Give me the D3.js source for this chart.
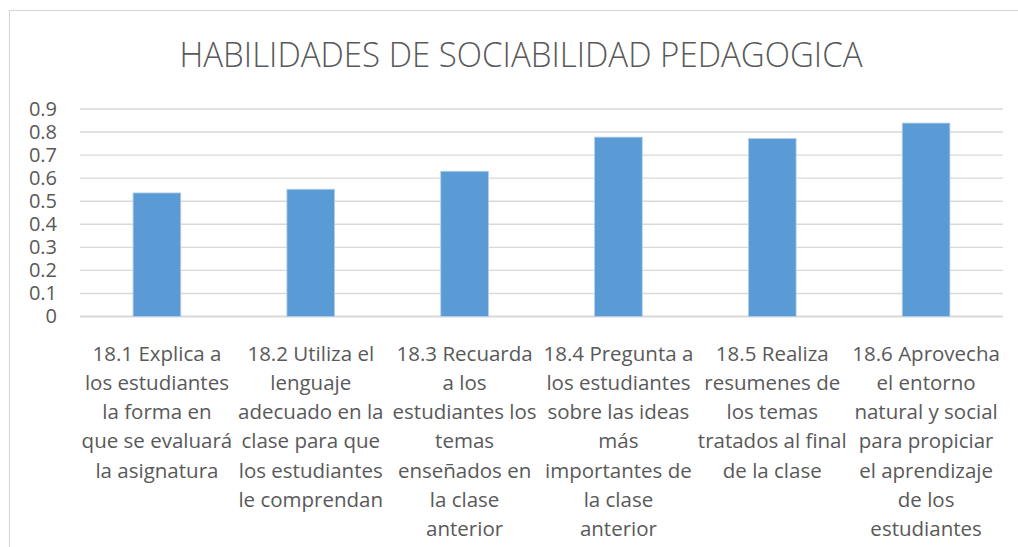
<!DOCTYPE html>
<html>
<head>
<meta charset="utf-8">
<script src="https://cdnjs.cloudflare.com/ajax/libs/d3/7.8.5/d3.min.js"></script>
<style>
  body { margin: 0; background: #fff; }
  text { font-family: "Open Sans", "Liberation Sans", sans-serif; fill: #595959; }
</style>
</head>
<body>
<div id="chart"></div>
<script>
var title = "HABILIDADES DE SOCIABILIDAD PEDAGOGICA";

var categories = ["18.1", "18.2", "18.3", "18.4", "18.5", "18.6"];

// wrapped axis labels, as in the picture
var categoryLabels = [
    ["18.1 Explica a", "los estudiantes", "la forma en", "que se evaluará", "la asignatura"],
    ["18.2 Utiliza el", "lenguaje", "adecuado en la", "clase para que", "los estudiantes", "le comprendan"],
    ["18.3 Recuarda", "a los", "estudiantes los", "temas", "enseñados en", "la clase", "anterior"],
    ["18.4 Pregunta a", "los estudiantes", "sobre las ideas", "más", "importantes de", "la clase", "anterior"],
    ["18.5 Realiza", "resumenes de", "los temas", "tratados al final", "de la clase"],
    ["18.6 Aprovecha", "el entorno", "natural y social", "para propiciar", "el aprendizaje", "de los", "estudiantes"]
];

var values = [0.536, 0.552, 0.630, 0.778, 0.772, 0.839];

var yTicks = [0, 0.1, 0.2, 0.3, 0.4, 0.5, 0.6, 0.7, 0.8, 0.9];

var W = 1018, H = 547;
var margin = { top: 109, right: 15, bottom: 230.5, left: 80 },
    width = W - margin.left - margin.right,
    height = H - margin.top - margin.bottom;

var svg = d3.select("#chart").append("svg")
    .attr("width", W)
    .attr("height", H);

// outer chart frame (runs off the right and bottom of the picture)
svg.append("rect")
    .attr("x", 9.5)
    .attr("y", 10.5)
    .attr("width", 1030)
    .attr("height", 560)
    .attr("fill", "none")
    .attr("stroke", "#d9d9d9")
    .attr("stroke-width", 1.2);

svg.append("text")
    .attr("x", 521)
    .attr("y", 67)
    .attr("text-anchor", "middle")
    .style("font-size", "34px")
    .style("font-weight", 300)
    .attr("textLength", 683)
    .attr("lengthAdjust", "spacingAndGlyphs")
    .text(title);

var g = svg.append("g")
    .attr("transform", "translate(" + margin.left + "," + margin.top + ")");

var xScale = d3.scaleBand()
    .domain(categories)
    .range([0, width])
    .paddingInner(0.69)
    .paddingOuter(0.345);

var band = d3.scaleBand()
    .domain(categories)
    .range([0, width]);

var yScale = d3.scaleLinear()
    .domain([0, 0.9])
    .range([height, 0]);

// gridlines
g.append("g")
    .selectAll("line")
    .data(yTicks)
    .enter().append("line")
    .attr("x1", 0)
    .attr("x2", width)
    .attr("y1", function (d) { return yScale(d); })
    .attr("y2", function (d) { return yScale(d); })
    .attr("stroke", "#d9d9d9")
    .attr("stroke-width", function (d) { return d === 0 ? 1.8 : 1.4; });

// y axis labels
var yAxis = g.append("g")
    .call(d3.axisLeft(yScale).tickValues(yTicks).tickSize(0).tickPadding(23).tickFormat(d3.format("")));
yAxis.select(".domain").remove();
yAxis.selectAll("text")
    .style("font-size", "20px")
    .attr("fill", "#595959");

// bars
g.selectAll(".bar")
    .data(values)
    .enter().append("rect")
    .attr("class", "bar")
    .attr("x", function (d, i) { return xScale(categories[i]); })
    .attr("width", xScale.bandwidth())
    .attr("y", function (d) { return yScale(d); })
    .attr("height", function (d) { return yScale(0) - yScale(d); })
    .attr("fill", "#5b9bd5")
    .attr("stroke", "#b4cfec")
    .attr("stroke-width", 0.8);

// category labels
var labels = g.selectAll(".cat")
    .data(categoryLabels)
    .enter().append("text")
    .attr("class", "cat")
    .attr("text-anchor", "middle")
    .attr("transform", function (d, i) {
        return "translate(" + (band(categories[i]) + band.bandwidth() / 2) + "," + (height + 44) + ")";
    })
    .style("font-size", "20.5px");

labels.selectAll("tspan")
    .data(function (d) { return d; })
    .enter().append("tspan")
    .attr("x", 0)
    .attr("y", function (d, i) { return i * 29.3; })
    .text(function (d) { return d; });
</script>
</body>
</html>
